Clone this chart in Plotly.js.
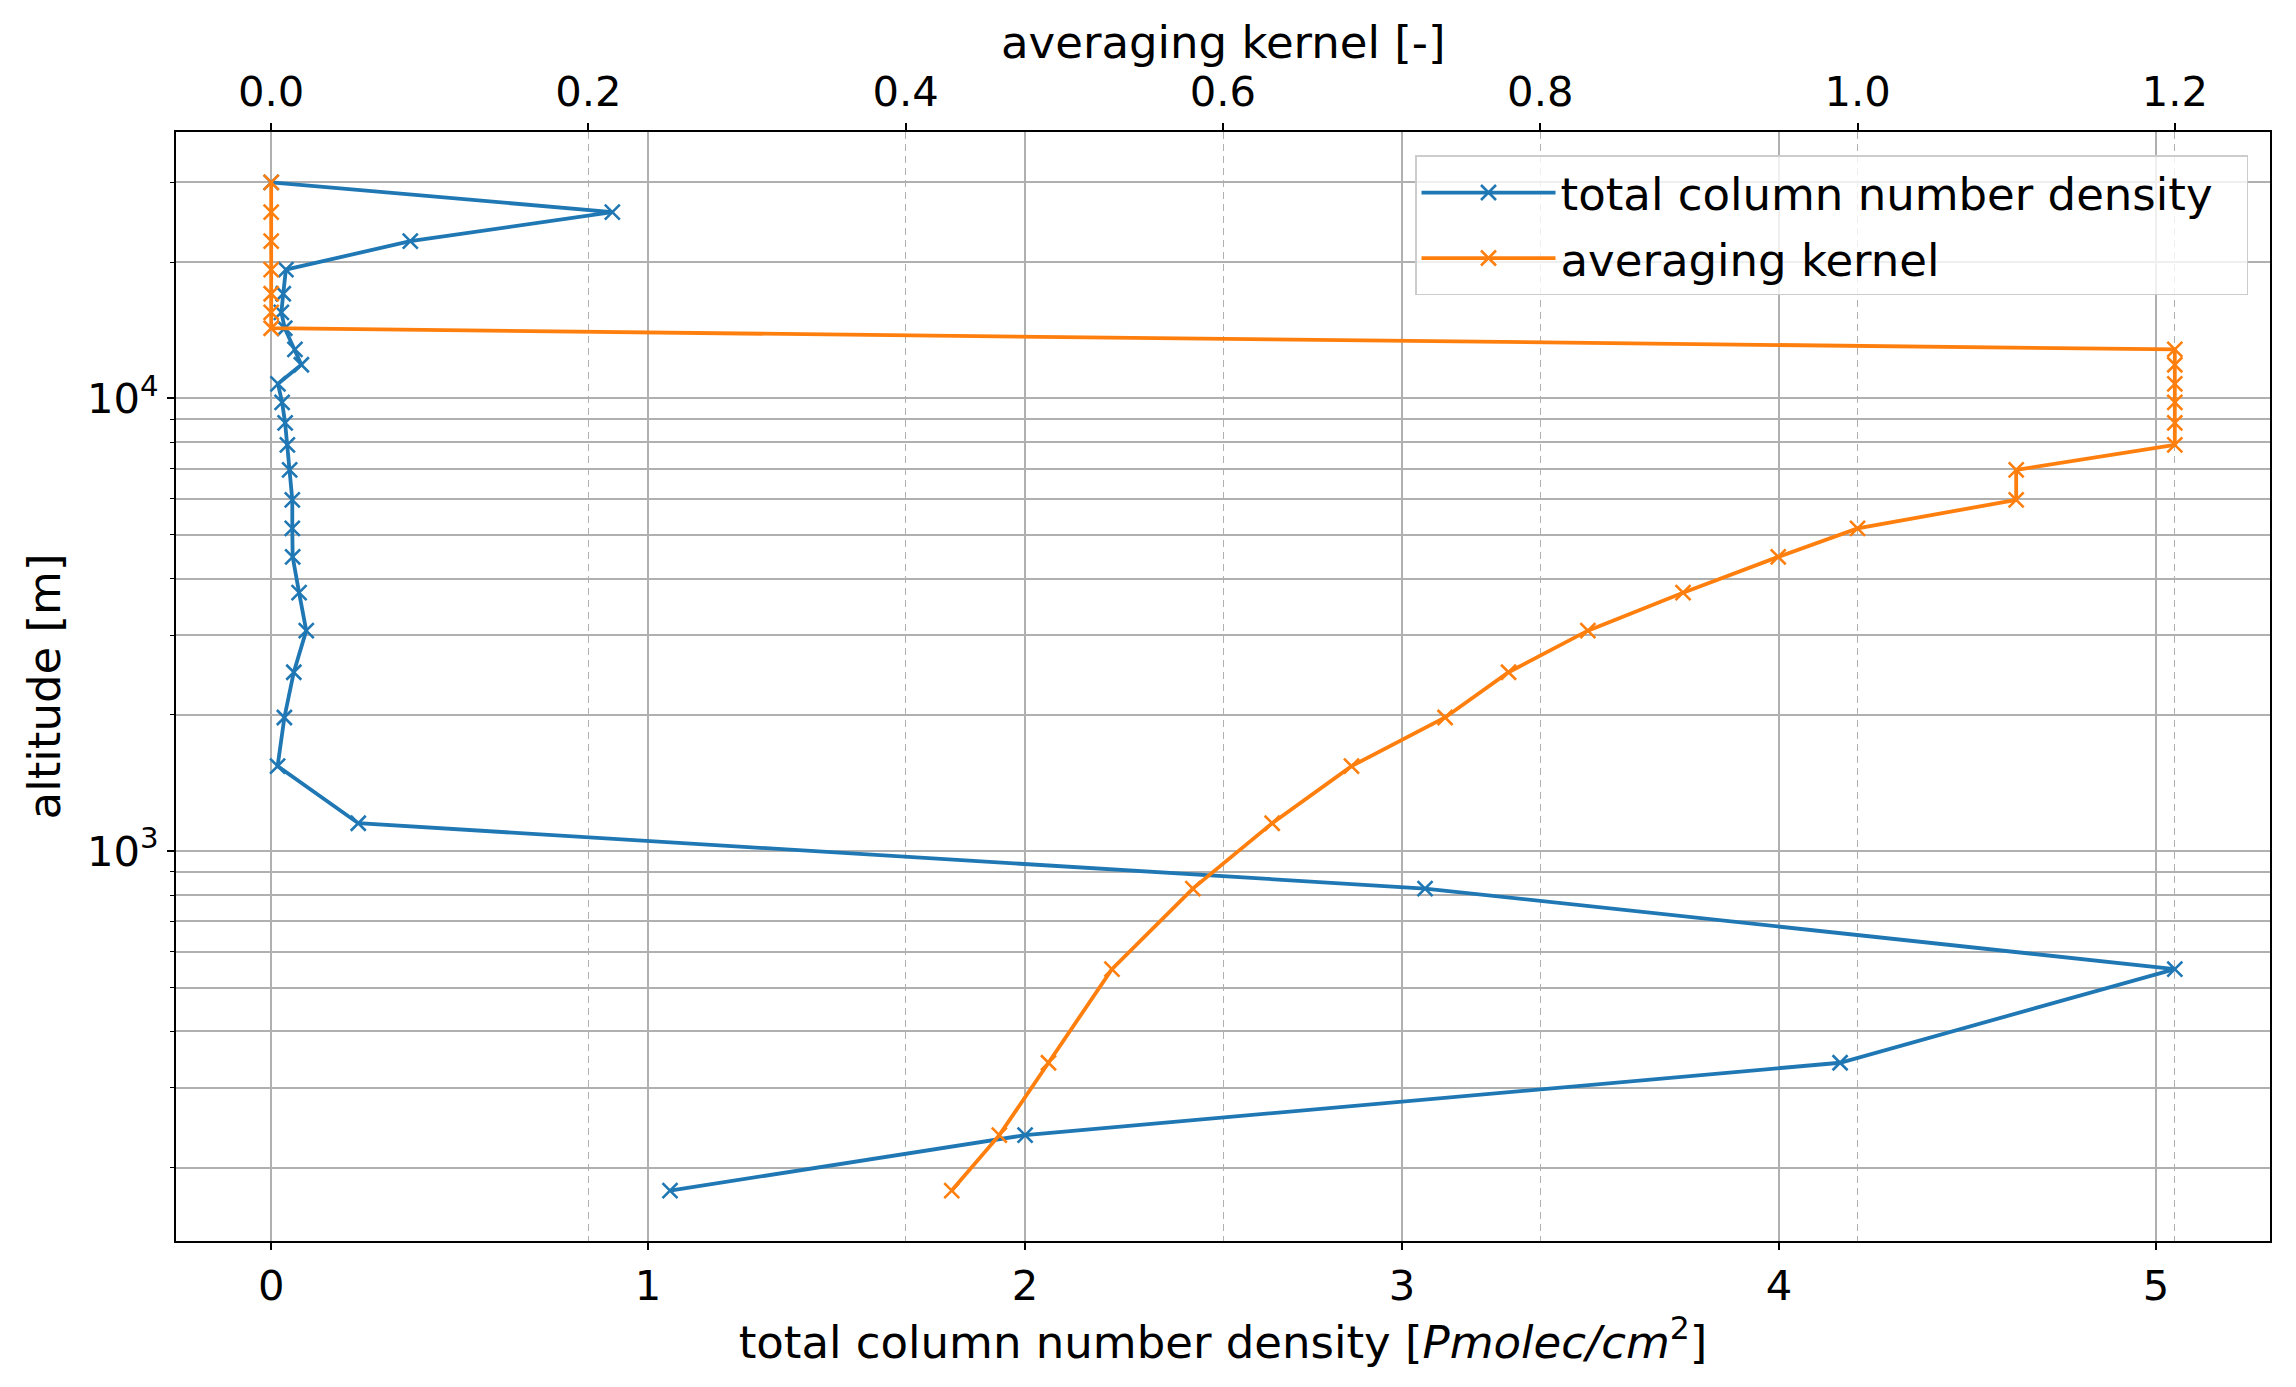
<!DOCTYPE html>
<html>
<head>
<meta charset="utf-8">
<script src="https://cdn.plot.ly/plotly-3.0.1.min.js"></script>
<style>
  html, body { margin: 0; padding: 0; background: #fff; }
  #chart { width: 2296px; height: 1387px; }
</style>
</head>
<body>
<div id="chart"></div>
<script>
  // altitude levels [m], shared by both profiles
  const altitude = [30000, 25800, 22250, 19250, 17030, 15490, 14290, 12830, 11870, 10770,
    9800, 8830, 7895, 6953, 5970, 5164, 4467, 3724, 3070, 2485,
    1974, 1541, 1153, 827, 549, 341, 236, 178];
  // total column number density [Pmolec/cm^2]
  const columnDensity = [0.0, 0.905, 0.369, 0.039, 0.032, 0.027, 0.036, 0.063, 0.080, 0.018,
    0.029, 0.037, 0.043, 0.049, 0.056, 0.056, 0.057, 0.074, 0.093, 0.060,
    0.035, 0.017, 0.231, 3.061, 5.05, 4.162, 2.0, 1.058];
  // averaging kernel [-]
  const avgKernel = [0, 0, 0, 0, 0, 0, 0, 1.2, 1.2, 1.2,
    1.2, 1.2, 1.2, 1.1, 1.1, 1.0, 0.95, 0.89, 0.83, 0.78,
    0.74, 0.681, 0.631, 0.581, 0.53, 0.49, 0.459, 0.429];

  const bottomTicks = [0, 1, 2, 3, 4, 5];
  const topTicks = [0.0, 0.2, 0.4, 0.6, 0.8, 1.0, 1.2];
  const yMajorTicks = [1000, 10000];
  const yMajorLabels = ["10<sup>3</sup>", "10<sup>4</sup>"];
  const yMinorTicks = [200, 300, 400, 500, 600, 700, 800, 900,
    2000, 3000, 4000, 5000, 6000, 7000, 8000, 9000, 20000, 30000];

  const BLUE = "#1f77b4";
  const ORANGE = "#ff7f0e";
  const GRID = "#b0b0b0";
  const LABEL_SIZE = 45;

  // matplotlib-style 5% margins
  function padRange(lo, hi) {
    const d = (hi - lo) * 0.05;
    return [lo - d, hi + d];
  }
  function padLogRange(values) {
    const lo = Math.log10(Math.min(...values));
    const hi = Math.log10(Math.max(...values));
    return padRange(lo, hi);
  }

  function markerStyle(color) {
    return { symbol: "x-thin", size: 15, color, line: { color, width: 2.6 } };
  }

  const traces = [
    {
      x: columnDensity, y: altitude, type: "scatter", mode: "lines+markers",
      name: "total column number density\u00a0\u00a0", xaxis: "x", yaxis: "y", legendgroup: "a",
      line: { color: BLUE, width: 3.8 }, marker: markerStyle(BLUE),
    },
    {
      x: avgKernel, y: altitude, type: "scatter", mode: "lines+markers",
      name: "averaging kernel", xaxis: "x2", yaxis: "y", legendgroup: "b",
      line: { color: ORANGE, width: 3.8 }, marker: markerStyle(ORANGE),
    },
  ];

  const axisCommon = {
    showline: true, linecolor: "#000", linewidth: 1.7,
    ticks: "outside", ticklen: 7.3, tickwidth: 1.7, tickcolor: "#000",
    showgrid: true, gridcolor: GRID, gridwidth: 1.7, zeroline: false,
    automargin: false,
  };

  const layout = {
    width: 2296, height: 1387,
    margin: { l: 176, r: 26, t: 132, b: 146 },
    paper_bgcolor: "#fff", plot_bgcolor: "#fff",
    font: { family: "DejaVu Sans", size: 41.7, color: "#000" },
    showlegend: true,
    legend: {
      x: 0.9895, xanchor: "right", y: 0.979, yanchor: "top",
      bgcolor: "rgba(255,255,255,0.8)", bordercolor: "#cccccc", borderwidth: 1.5,
      font: { size: LABEL_SIZE }, itemwidth: 134, tracegroupgap: 4,
    },
    xaxis: {
      ...axisCommon,
      range: padRange(Math.min(...columnDensity), Math.max(...columnDensity)),
      tickmode: "array", tickvals: bottomTicks,
      title: {
        text: "total column number density [<i>Pmolec/cm</i><sup>2</sup>]",
        font: { size: LABEL_SIZE }, standoff: 11,
      },
    },
    xaxis2: {
      ...axisCommon,
      overlaying: "x", side: "top", anchor: "y",
      range: padRange(Math.min(...avgKernel), Math.max(...avgKernel)),
      tickmode: "array", tickvals: topTicks, ticktext: topTicks.map((v) => v.toFixed(1)),
      griddash: "7px,5px", gridwidth: 1.4,
    },
    yaxis: {
      ...axisCommon,
      type: "log", mirror: true,
      range: padLogRange(altitude),
      tickmode: "array", tickvals: yMajorTicks, ticktext: yMajorLabels,
      minor: {
        tickmode: "array", tickvals: yMinorTicks,
        ticks: "outside", ticklen: 4.2, tickwidth: 1.3, tickcolor: "#000",
        showgrid: true, gridcolor: GRID, gridwidth: 1.7,
      },
      title: { text: "altitude [m]", font: { size: LABEL_SIZE }, standoff: 12 },
    },
    annotations: [
      {
        // top axis title, placed just above the top tick labels
        text: "averaging kernel [-]", font: { size: LABEL_SIZE },
        xref: "paper", yref: "paper", x: 0.5, y: 1, xanchor: "center", yanchor: "bottom",
        yshift: 62, borderpad: 0, showarrow: false,
      },
    ],
  };

  Plotly.newPlot("chart", traces, layout, { displayModeBar: false, responsive: false });
</script>
</body>
</html>
